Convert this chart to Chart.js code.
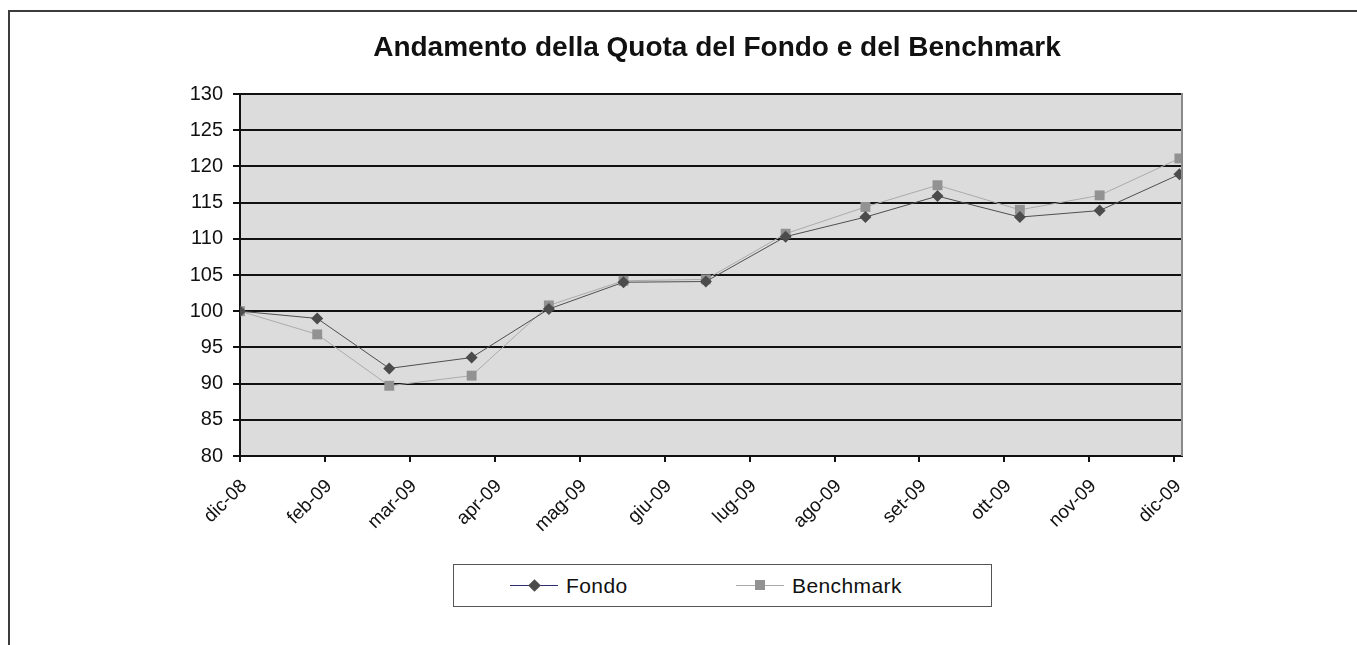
<!DOCTYPE html>
<html>
<head>
<meta charset="utf-8">
<script src="https://cdn.jsdelivr.net/npm/chart.js@4.4.1/dist/chart.umd.min.js"></script>
<style>
  body { margin: 0; background: #fff; overflow: hidden; font-family: "Liberation Sans", Arial, sans-serif; }
  #wrap { position: relative; width: 1357px; height: 645px; }
  #frame { position: absolute; left: 8px; top: 10px; width: 1400px; height: 700px;
           border-top: 2px solid #3c3c3c; border-left: 2px solid #3c3c3c; }
  #title { position: absolute; left: 0; width: 1434px; top: 31px; text-align: center;
           font-weight: bold; font-size: 28px; color: #111; }
  #legend { position: absolute; left: 453px; top: 564px; width: 537px; height: 41px;
            border: 1px solid #555; background: #fff; }
  .item { position: absolute; top: 0; height: 41px; line-height: 41px; font-size: 21px; color: #111; }
  .item .ln { position: absolute; top: 20px; width: 48px; height: 1px; }
  .item .mk { position: absolute; }
  .item .tx { position: absolute; white-space: nowrap; letter-spacing: 0.4px; }
  canvas { position: absolute; left: 0; top: 0; }
</style>
</head>
<body>
<div id="wrap">
  <div id="frame"></div>
  <canvas id="myChart" width="1357" height="645"></canvas>
  <div id="title">Andamento della Quota del Fondo e del Benchmark</div>
  <div id="legend"></div>
</div>
<script>
// Data
const dates = ['2008-12-31', '2009-01-30', '2009-02-27', '2009-03-31', '2009-04-30', '2009-05-29',
               '2009-06-30', '2009-07-31', '2009-08-31', '2009-09-28', '2009-10-30', '2009-11-30', '2009-12-31'];
const fondo = [100, 99.0, 92.1, 93.6, 100.3, 104.0, 104.1, 110.3, 113.0, 115.9, 113.0, 113.9, 118.9];
const benchmark = [100, 96.8, 89.7, 91.1, 100.8, 104.2, 104.4, 110.7, 114.4, 117.4, 114.0, 116.0, 121.1];
const tickLabels = ['dic-08', 'feb-09', 'mar-09', 'apr-09', 'mag-09', 'giu-09', 'lug-09',
                    'ago-09', 'set-09', 'ott-09', 'nov-09', 'dic-09'];
const tickStepDays = 33; // excel date axis major unit
const axisMaxDays = 366;

const day0 = Date.parse(dates[0]);
const days = dates.map(d => (Date.parse(d) - day0) / 86400000);

const plotBg = {
    id: 'plotBg',
    beforeDraw(chart) {
        const a = chart.chartArea, c = chart.ctx;
        c.save();
        c.fillStyle = '#dcdcdd';
        c.fillRect(a.left, a.top, a.right - a.left, a.bottom - a.top);
        c.restore();
    },
    afterDatasetsDraw(chart) {
        const a = chart.chartArea, c = chart.ctx;
        c.save();
        c.strokeStyle = '#8a8a8a';
        c.lineWidth = 2;
        c.beginPath();
        c.moveTo(a.right, a.top - 1);
        c.lineTo(a.right, a.bottom);
        c.stroke();
        c.restore();
    }
};

const ctx = document.getElementById('myChart').getContext('2d');
const myChart = new Chart(ctx, {
    type: 'line',
    data: {
        datasets: [{
                label: 'Fondo',
                data: days.map((x, i) => ({x: x, y: fondo[i]})),
                borderColor: '#4f4f4f',
                borderWidth: 1,
                pointStyle: 'rectRot',
                pointRadius: 6,
                pointBackgroundColor: '#4b4b4b',
                pointBorderColor: '#4b4b4b',
                pointBorderWidth: 0,
                tension: 0
            },
            {
                label: 'Benchmark',
                data: days.map((x, i) => ({x: x, y: benchmark[i]})),
                borderColor: '#ababab',
                borderWidth: 1,
                pointStyle: 'rect',
                pointRadius: 7,
                pointBackgroundColor: '#929292',
                pointBorderColor: '#929292',
                pointBorderWidth: 0,
                tension: 0
            }
        ]
    },
    options: {
        responsive: false,
        animation: false,
        layout: {
            padding: {top: 94, right: 175, bottom: 0, left: 0}
        },
        plugins: {
            legend: {display: false},
            title: {display: false},
            tooltip: {enabled: false}
        },
        scales: {
            x: {
                type: 'linear',
                min: 0,
                max: axisMaxDays,
                afterFit(scale) { scale.height = 189; },
                afterBuildTicks(scale) {
                    scale.ticks = tickLabels.map((l, i) => ({value: i * tickStepDays}));
                },
                ticks: {
                    autoSkip: false,
                    minRotation: 45,
                    maxRotation: 45,
                    padding: 13,
                    labelOffset: 4,
                    color: '#111',
                    font: {family: '"Liberation Sans", Arial', size: 19},
                    callback: (v, i) => tickLabels[i]
                },
                grid: {
                    drawOnChartArea: false,
                    color: '#111',
                    lineWidth: 2,
                    tickLength: 6
                },
                border: {color: '#111', width: 2}
            },
            y: {
                min: 80,
                max: 130,
                afterFit(scale) { scale.width = 240; },
                ticks: {
                    stepSize: 5,
                    padding: 10,
                    color: '#111',
                    font: {family: '"Liberation Sans", Arial', size: 20}
                },
                grid: {
                    color: '#111',
                    lineWidth: 2,
                    tickLength: 7
                },
                border: {color: '#111', width: 2}
            }
        }
    },
    plugins: [plotBg]
});

// legend box like the excel one
const legendBox = document.getElementById('legend');
const legendSpec = [
    {left: 56, line: '#2e2e6e', marker: 'diamond'},
    {left: 282, line: '#a8a8a8', marker: 'square'}
];
myChart.data.datasets.forEach((ds, i) => {
    const s = legendSpec[i];
    const item = document.createElement('div');
    item.className = 'item';
    item.style.left = s.left + 'px';
    const ln = document.createElement('div');
    ln.className = 'ln';
    ln.style.left = '0px';
    ln.style.background = s.line;
    const mk = document.createElement('div');
    mk.className = 'mk';
    mk.style.background = ds.pointBackgroundColor;
    if (s.marker === 'diamond') {
        mk.style.width = '9px'; mk.style.height = '9px';
        mk.style.left = '20px'; mk.style.top = '16px';
        mk.style.transform = 'rotate(45deg)';
    } else {
        mk.style.width = '10px'; mk.style.height = '10px';
        mk.style.left = '19px'; mk.style.top = '15px';
    }
    const tx = document.createElement('div');
    tx.className = 'tx';
    tx.style.left = '56px';
    tx.textContent = ds.label;
    item.appendChild(ln);
    item.appendChild(mk);
    item.appendChild(tx);
    legendBox.appendChild(item);
});
</script>
</body>
</html>
